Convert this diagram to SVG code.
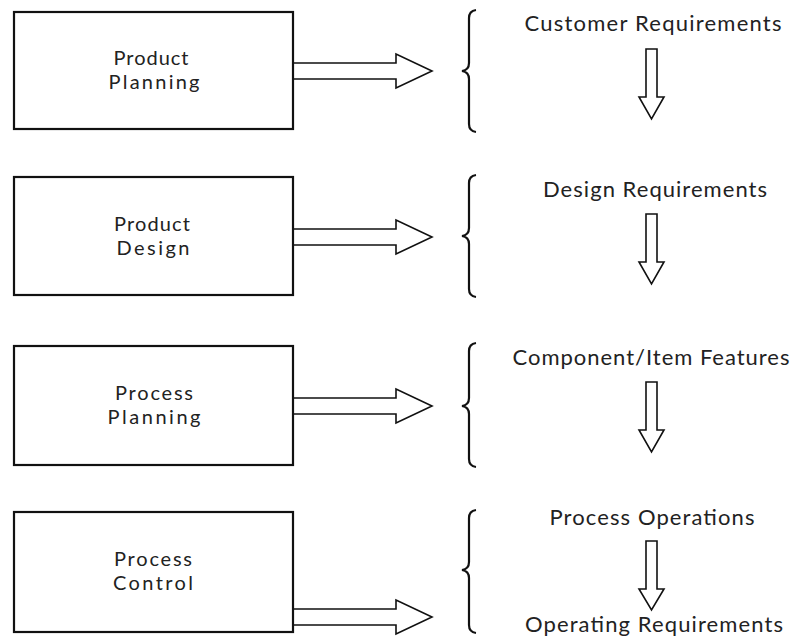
<svg xmlns="http://www.w3.org/2000/svg" width="793" height="644" viewBox="0 0 793 644">
<style>
.box{fill:#fff;stroke:#111;stroke-width:2.2}
.t{font-family:Lato,"Open Sans","Liberation Sans",sans-serif;font-size:22px;fill:#222;text-anchor:middle}
.b{font-family:Lato,"Open Sans","Liberation Sans",sans-serif;font-size:20px;fill:#222;text-anchor:middle}
.arr{fill:#fff;stroke:#111;stroke-width:1.6;stroke-linejoin:miter}
.brace{fill:none;stroke:#111;stroke-width:2.2}
</style>
<rect width="793" height="644" fill="#fff"/>
<g id="connectors">
  <path class="arr" d="M293,63 L396,63 L396,54 L432,71 L396,88 L396,79 L293,79"/>
  <path class="arr" d="M293,229 L396,229 L396,220 L432,237 L396,254 L396,245 L293,245"/>
  <path class="arr" d="M293,398 L396,398 L396,389 L432,406 L396,423 L396,414 L293,414"/>
  <path class="arr" d="M293,609 L396,609 L396,600 L432,617 L396,634 L396,625 L293,625"/>
  <path class="arr" d="M646,49 L657,49 L657,97 L664,97 L651.5,119 L639,97 L646,97 Z"/>
  <path class="arr" d="M646,214 L657,214 L657,262 L664,262 L651.5,284 L639,262 L646,262 Z"/>
  <path class="arr" d="M646,382 L657,382 L657,430 L664,430 L651.5,452 L639,430 L646,430 Z"/>
  <path class="arr" d="M646,541 L657,541 L657,589 L664,589 L651.5,610 L639,589 L646,589 Z"/>
</g>
<g id="n1">
  <rect class="box" x="14" y="12" width="279" height="117"/>
  <text class="b" x="151" y="65" textLength="75" lengthAdjust="spacing">Product</text>
  <text class="b" x="154" y="89" textLength="91" lengthAdjust="spacing">Planning</text>
</g>
<g id="n2">
  <rect class="box" x="14" y="177" width="279" height="118"/>
  <text class="b" x="152" y="231" textLength="76" lengthAdjust="spacing">Product</text>
  <text class="b" x="153" y="255" textLength="73" lengthAdjust="spacing">Design</text>
</g>
<g id="n3">
  <rect class="box" x="14" y="346" width="279" height="119"/>
  <text class="b" x="154" y="400" textLength="78" lengthAdjust="spacing">Process</text>
  <text class="b" x="154" y="424" textLength="93" lengthAdjust="spacing">Planning</text>
</g>
<g id="n4">
  <rect class="box" x="14" y="512" width="279" height="120"/>
  <text class="b" x="153" y="566" textLength="78" lengthAdjust="spacing">Process</text>
  <text class="b" x="153" y="590" textLength="80" lengthAdjust="spacing">Control</text>
</g>
<g id="b1">
  <path class="brace" d="M476,10 Q469,11 469,18 L469,63 Q469,70 462,71 Q469,72 469,79 L469,124 Q469,131 476,132"/>
  <text class="t" x="653" y="31" textLength="257" lengthAdjust="spacing">Customer Requirements</text>
</g>
<g id="b2">
  <path class="brace" d="M476,175 Q469,176 469,183 L469,228 Q469,235 462,236 Q469,237 469,244 L469,289 Q469,296 476,297"/>
  <text class="t" x="655" y="197" textLength="224" lengthAdjust="spacing">Design Requirements</text>
</g>
<g id="b3">
  <path class="brace" d="M476,343 Q469,344 469,351 L469,398 Q469,405 462,406 Q469,407 469,414 L469,459 Q469,466 476,467"/>
  <text class="t" x="651" y="365" textLength="277" lengthAdjust="spacing">Component/Item Features</text>
</g>
<g id="b4">
  <path class="brace" d="M476,510 Q469,511 469,518 L469,562 Q469,569 462,570 Q469,571 469,578 L469,625 Q469,632 476,633"/>
  <text class="t" x="652" y="525" textLength="205" lengthAdjust="spacing">Process Operations</text>
  <text class="t" x="654" y="632" textLength="258" lengthAdjust="spacing">Operating Requirements</text>
</g>
</svg>
